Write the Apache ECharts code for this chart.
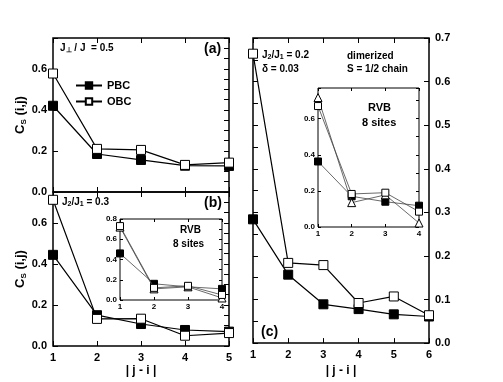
<!DOCTYPE html>
<html>
<head>
<meta charset="utf-8">
<script src="https://cdn.jsdelivr.net/npm/echarts@6/dist/echarts.min.js"></script>
<style>
  html, body { margin: 0; padding: 0; background: #fff; }
  #chart { width: 503px; height: 382px; }
</style>
</head>
<body>
<div id="chart"></div>
<script>
// panel (a) - ladder, J_perp/J = 0.5
const xA = [1, 2, 3, 4, 5]
const pbcA = [0.42, 0.185, 0.156, 0.128, 0.127]
const obcA = [0.577, 0.21, 0.205, 0.132, 0.143]
// panel (b) - J2/J1 = 0.3
const xB = [1, 2, 3, 4, 5]
const pbcB = [0.444, 0.15, 0.107, 0.078, 0.07]
const obcB = [0.712, 0.132, 0.133, 0.05, 0.063]
// inset (b) RVB 8 sites
const xBi = [1, 2, 3, 4]
const rvbFillB = [0.46, 0.16, 0.13, 0.11]
const rvbOpenB = [0.73, 0.12, 0.14, 0.05]
const rvbTriB = [0.72, 0.11, 0.13, 0.02]
// panel (c) - dimerized chain
const xC = [1, 2, 3, 4, 5, 6]
const pbcC = [0.284, 0.157, 0.089, 0.078, 0.066, 0.061]
const obcC = [0.664, 0.184, 0.179, 0.092, 0.107, 0.064]
// inset (c) RVB 8 sites
const xCi = [1, 2, 3, 4]
const rvbFillC = [0.363, 0.17, 0.14, 0.118]
const rvbOpenC = [0.67, 0.183, 0.19, 0.085]
const rvbTriC = [0.717, 0.135, 0.178, 0.022]

const FONT = 'Liberation Sans'
const pair = (xs, ys) => xs.map((x, i) => [x, ys[i]])

function xAx(grid, max, pos, labels, size, name) {
  return {
    type: 'value', gridIndex: grid, min: 1, max: max, interval: 1, position: pos,
    axisLine: { show: false, onZero: false },
    axisTick: { show: true, inside: true, length: size > 9 ? 5 : 3, lineStyle: { color: '#000', width: 1 } },
    splitLine: { show: false },
    axisLabel: { show: labels, color: '#000', fontFamily: FONT, fontWeight: 'bold', fontSize: size, margin: size > 9 ? 6 : 3 },
    name: name || '', nameLocation: 'middle', nameGap: 19,
    nameTextStyle: { color: '#000', fontFamily: FONT, fontWeight: 'bold', fontSize: 12 }
  }
}

function yAx(grid, max, interval, pos, labels, size, name) {
  const step = Math.round(interval * 100)
  return {
    type: 'value', gridIndex: grid, min: 0, max: max, interval: interval, position: pos,
    axisLine: { show: false, onZero: false },
    axisTick: { show: true, inside: true, length: size > 9 ? 5 : 3, lineStyle: { color: '#000', width: 1 } },
    splitLine: { show: false },
    axisLabel: {
      show: labels, color: '#000', fontFamily: FONT, fontWeight: 'bold', fontSize: size, margin: size > 9 ? 6 : 3,
      formatter: v => (Math.round(v * 100) % step === 0 ? v.toFixed(1) : '')
    },
    name: name || '', nameLocation: 'middle', nameGap: 25, nameRotate: 90,
    nameTextStyle: {
      color: '#000', fontFamily: FONT, fontWeight: 'bold', fontSize: 13,
      rich: { sub: { fontFamily: FONT, fontWeight: 'bold', fontSize: 8, verticalAlign: 'bottom', padding: [6, 0, 0, 0] } }
    }
  }
}

function ser(name, xi, yi, data, kind, big) {
  const size = big ? 9 : 7
  let sym = 'rect', fill = '#000'
  if (kind === 'open') fill = '#fff'
  if (kind === 'tri') { sym = 'triangle'; fill = '#fff' }
  return {
    name: name, type: 'line', xAxisIndex: xi, yAxisIndex: yi, data: data,
    symbol: sym, symbolSize: kind === 'tri' ? size + 1 : size, showAllSymbol: true,
    lineStyle: { color: big ? '#000' : '#444', width: big ? 1.2 : 0.8 },
    itemStyle: { color: fill, borderColor: '#000', borderWidth: 1 },
    emphasis: { disabled: true }, animation: false, z: kind === 'fill' ? 3 : 4
  }
}

const gridBox = { show: true, borderColor: '#000', borderWidth: 1.5, backgroundColor: 'transparent' }
const rich = {
  sub: { fontFamily: FONT, fontWeight: 'bold', fontSize: 7, verticalAlign: 'bottom', padding: [5, 0, 0, 0] },
  n: { fontFamily: FONT, fontWeight: 'bold', fontSize: 11 }
}
function txt(x, y, text, size) {
  return {
    type: 'text', left: x, top: y,
    style: { text: text, fill: '#000', font: 'bold ' + (size || 11) + 'px "' + FONT + '"', rich: rich }
  }
}

let myChart = echarts.init(document.getElementById('chart'))
myChart.setOption({
  animation: false,
  backgroundColor: '#fff',
  grid: [
    Object.assign({ left: 53, top: 38, width: 176, height: 154 }, gridBox),
    Object.assign({ left: 53, top: 192, width: 176, height: 154 }, gridBox),
    Object.assign({ left: 120, top: 219, width: 102, height: 81 }, gridBox, { borderWidth: 1 }),
    Object.assign({ left: 253, top: 38, width: 176, height: 308 }, gridBox),
    Object.assign({ left: 318, top: 88, width: 101, height: 139 }, gridBox, { borderWidth: 1 })
  ],
  xAxis: [
    xAx(0, 5, 'bottom', false, 11),
    xAx(0, 5, 'top', false, 11),
    xAx(1, 5, 'bottom', true, 11, '| j - i |'),
    xAx(1, 5, 'top', false, 11),
    xAx(2, 4, 'bottom', true, 8),
    xAx(2, 4, 'top', false, 8),
    xAx(3, 6, 'bottom', true, 11, '| j - i |'),
    xAx(3, 6, 'top', false, 11),
    xAx(4, 4, 'bottom', true, 8),
    xAx(4, 4, 'top', false, 8)
  ],
  yAxis: [
    yAx(0, 0.75, 0.2, 'left', true, 11, 'C{sub|S} (i,j)'),
    yAx(0, 0.75, 0.05, 'right', false, 11),
    yAx(1, 0.75, 0.2, 'left', true, 11, 'C{sub|S} (i,j)'),
    yAx(1, 0.75, 0.05, 'right', false, 11),
    yAx(2, 0.8, 0.2, 'left', true, 8),
    yAx(2, 0.8, 0.1, 'right', false, 8),
    yAx(3, 0.7, 0.1, 'right', true, 11),
    yAx(3, 0.7, 0.05, 'left', false, 11),
    yAx(4, 0.77, 0.2, 'left', true, 8),
    yAx(4, 0.77, 0.1, 'right', false, 8)
  ],
  legend: {
    left: 70, top: 75, orient: 'vertical', itemWidth: 26, itemHeight: 8, itemGap: 5,
    data: ['PBC', 'OBC'],
    textStyle: { color: '#000', fontFamily: FONT, fontWeight: 'bold', fontSize: 11 }
  },
  series: [
    ser('PBC', 0, 0, pair(xA, pbcA), 'fill', true),
    ser('OBC', 0, 0, pair(xA, obcA), 'open', true),
    ser('PBC b', 2, 2, pair(xB, pbcB), 'fill', true),
    ser('OBC b', 2, 2, pair(xB, obcB), 'open', true),
    ser('RVB fill b', 4, 4, pair(xBi, rvbFillB), 'fill', false),
    ser('RVB tri b', 4, 4, pair(xBi, rvbTriB), 'tri', false),
    ser('RVB open b', 4, 4, pair(xBi, rvbOpenB), 'open', false),
    ser('PBC c', 6, 6, pair(xC, pbcC), 'fill', true),
    ser('OBC c', 6, 6, pair(xC, obcC), 'open', true),
    ser('RVB fill c', 8, 8, pair(xCi, rvbFillC), 'fill', false),
    ser('RVB tri c', 8, 8, pair(xCi, rvbTriC), 'tri', false),
    ser('RVB open c', 8, 8, pair(xCi, rvbOpenC), 'open', false)
  ],
  graphic: [
    txt(60, 43, 'J{sub|⊥} / J  = 0.5', 10),
    txt(204, 42, '(a)', 14),
    txt(62, 197, 'J{sub|2}/J{sub|1} = 0.3', 10),
    txt(204, 196, '(b)', 14),
    txt(180, 225, 'RVB', 10),
    txt(173, 239, '8 sites', 10),
    txt(262, 50, 'J{sub|2}/J{sub|1} = 0.2', 10),
    txt(262, 64, 'δ = 0.03', 10),
    txt(347, 51, 'dimerized', 10),
    txt(347, 64, 'S = 1/2 chain', 10),
    txt(368, 102, 'RVB', 11),
    txt(362, 117, '8 sites', 11),
    txt(261, 325, '(c)', 14)
  ]
})
</script>
</body>
</html>
